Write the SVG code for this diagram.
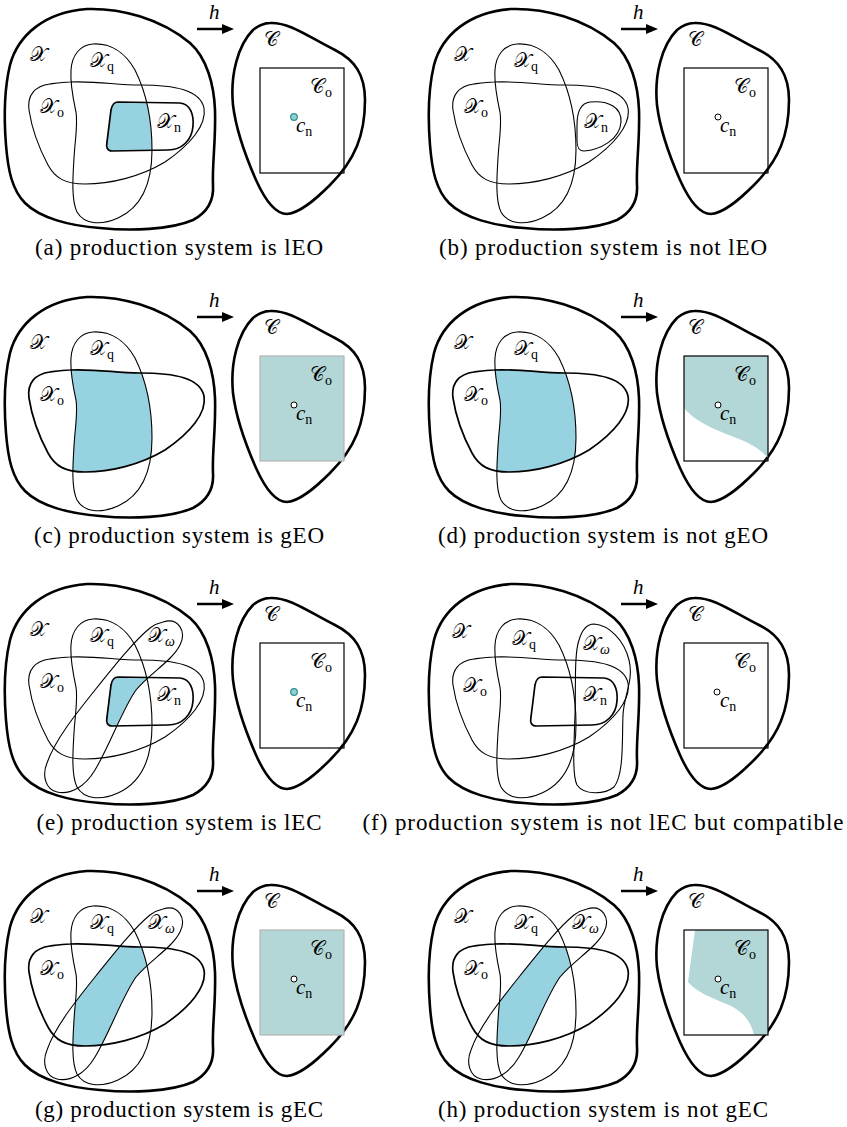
<svg xmlns="http://www.w3.org/2000/svg" xmlns:xlink="http://www.w3.org/1999/xlink" width="847" height="1127" viewBox="0 0 847 1127">
<defs>
<style>
.thick{fill:none;stroke:#000;stroke-width:2.6;stroke-linejoin:round}
.thin{fill:none;stroke:#000;stroke-width:1.1}
.med{fill:none;stroke:#000;stroke-width:1.7}
.rect{fill:none;stroke:#000;stroke-width:1.2}
.rectf{fill:#b3d6d6;stroke:#b4b4b4;stroke-width:1.2}
.cfill{fill:#b3d6d6}
.shade{fill:#96d2df}
.dot{fill:#fff;stroke:#000;stroke-width:1}
.dotc{fill:#8fd1cf;stroke:#2f8f8c;stroke-width:1.2}
.m{font-family:"DejaVu Serif","DejaVu Sans","Noto Sans","Liberation Serif",serif;font-size:20px}
.sub{font-family:"Liberation Serif",serif;font-size:14px;font-style:normal}
.subi{font-family:"Liberation Serif",serif;font-size:14px;font-style:italic}
.it{font-family:"Liberation Serif",serif;font-style:italic;font-size:21px}
.cap{font-family:"Liberation Serif",serif;font-size:23px;text-anchor:middle}
.arr{stroke:#000;stroke-width:2.5;marker-end:url(#ah)}
</style>
<marker id="ah" markerUnits="userSpaceOnUse" markerWidth="14" markerHeight="10" refX="0" refY="5" orient="auto" overflow="visible"><path d="M0,0 L12,5 L0,10 Z" fill="#000"/></marker>
<path id="pX" d="M87,9 C120,8 160,18 190,43 C207,58 214,85 215,110 C216,140 212,165 213,185 C214,200 208,212 193,220 C170,230 130,231 100,228 C70,226 40,218 25,203 C12,190 8,170 6,145 C4,120 4,90 10,65 C18,35 45,12 87,9 Z"/>
<path id="pC" d="M270,23 C290,22 310,38 335,50 C355,60 365,75 365,100 C365,135 355,160 330,185 C315,200 300,213 287,214 C275,214 265,200 256,180 C245,155 236,130 233,105 C230,75 238,45 253,30 C258,26 264,23 270,23 Z"/>
<path id="pXq" d="M93,44 C110,43 125,52 135,70 C146,92 152,120 152,150 C152,185 140,208 118,218 C100,226 84,224 77,212 C71,200 73,175 74,158 C75,140 78,125 76,112 C73,98 70,85 71,70 C72,55 80,45 93,44 Z"/>
<path id="pXo" d="M70,82 C100,81 115,85 140,85 C175,85 200,90 204,108 C207,125 190,145 165,162 C140,177 110,184 85,184 C65,184 55,178 48,165 C40,150 32,130 29,110 C27,95 35,86 50,84 C57,83 63,82 70,82 Z"/>
<path id="pXn" d="M118,102 L180,103 C190,104 194,114 193,126 C192,140 182,150 168,150 L112,151 C107,151 106,147 107,142 L111,110 C112,105 114,102 118,102 Z"/>
<path id="pXnb" d="M166,102 C185,100 198,108 197,122 C196,140 175,150 160,151 C155,151 153,148 153,140 L153,125 C153,110 158,103 166,102 Z"/>
<path id="pXw" d="M163,47 C178,42 187,56 180,70 C172,86 150,98 136,115 C122,135 110,170 95,195 C85,212 70,220 57,217 C45,214 42,200 47,188 C55,165 75,140 95,115 C115,90 135,65 150,53 C154,50 158,48 163,47 Z"/>
<path id="pXwf" d="M170,49 C185,50 200,65 205,85 C210,105 200,120 199,140 C198,165 200,200 190,212 C180,220 160,220 153,210 C148,200 150,170 151,140 C152,110 150,80 155,65 C158,55 163,49 170,49 Z"/>
<clipPath id="cq"><use href="#pXq"/></clipPath>
<clipPath id="cw"><use href="#pXw"/></clipPath>
</defs>
<rect width="847" height="1127" fill="#fff"/>

<!-- (a) -->
<g id="panel-a" transform="translate(0,0)">
<g clip-path="url(#cq)"><use href="#pXn" class="shade"/></g>
<use href="#pX" class="thick"/>
<use href="#pXq" class="thin"/>
<use href="#pXo" class="thin"/>
<use href="#pXn" class="med"/>
<use href="#pC" class="thick"/>
<rect x="260" y="68" width="84" height="105" class="rect"/>
<circle cx="294" cy="117" r="3.3" class="dotc"/>
<g class="connectors"><line x1="197" y1="29" x2="222" y2="29" class="arr"/></g>
<text x="209" y="19" class="it">h</text>
<text x="30" y="61" class="m">𝒳</text>
<text x="90" y="67" class="m">𝒳<tspan class="sub" dy="4">q</tspan></text>
<text x="40" y="113" class="m">𝒳<tspan class="sub" dy="4">o</tspan></text>
<text x="157" y="128" class="m">𝒳<tspan class="sub" dy="4">n</tspan></text>
<text x="264" y="46" class="m">𝒞</text>
<text x="310" y="93" class="m">𝒞<tspan class="sub" dy="4">o</tspan></text>
<text x="296" y="132" class="it">c<tspan class="sub" dy="4">n</tspan></text>
<text x="179" y="255" class="cap" textLength="288" lengthAdjust="spacing">(a) production system is lEO</text>
</g>

<!-- (b) -->
<g id="panel-b" transform="translate(424,0)">
<use href="#pX" class="thick"/>
<use href="#pXq" class="thin"/>
<use href="#pXo" class="thin"/>
<use href="#pXnb" class="thin"/>
<use href="#pC" class="thick"/>
<rect x="260" y="68" width="84" height="105" class="rect"/>
<circle cx="294" cy="117" r="3" class="dot"/>
<g class="connectors"><line x1="197" y1="29" x2="222" y2="29" class="arr"/></g>
<text x="209" y="19" class="it">h</text>
<text x="30" y="61" class="m">𝒳</text>
<text x="90" y="67" class="m">𝒳<tspan class="sub" dy="4">q</tspan></text>
<text x="40" y="113" class="m">𝒳<tspan class="sub" dy="4">o</tspan></text>
<text x="160" y="128" class="m">𝒳<tspan class="sub" dy="4">n</tspan></text>
<text x="264" y="46" class="m">𝒞</text>
<text x="310" y="93" class="m">𝒞<tspan class="sub" dy="4">o</tspan></text>
<text x="296" y="132" class="it">c<tspan class="sub" dy="4">n</tspan></text>
<text x="179" y="255" class="cap" textLength="328" lengthAdjust="spacing">(b) production system is not lEO</text>
</g>

<!-- (c) -->
<g id="panel-c" transform="translate(0,288)">
<g clip-path="url(#cq)"><use href="#pXo" class="shade"/></g>
<use href="#pX" class="thick"/>
<use href="#pXq" class="thin"/>
<use href="#pXo" class="med"/>
<use href="#pC" class="thick"/>
<rect x="260" y="68" width="84" height="105" class="rectf"/>
<circle cx="294" cy="117" r="3" class="dot"/>
<g class="connectors"><line x1="197" y1="29" x2="222" y2="29" class="arr"/></g>
<text x="209" y="19" class="it">h</text>
<text x="30" y="61" class="m">𝒳</text>
<text x="90" y="67" class="m">𝒳<tspan class="sub" dy="4">q</tspan></text>
<text x="40" y="113" class="m">𝒳<tspan class="sub" dy="4">o</tspan></text>
<text x="264" y="46" class="m">𝒞</text>
<text x="310" y="93" class="m">𝒞<tspan class="sub" dy="4">o</tspan></text>
<text x="296" y="132" class="it">c<tspan class="sub" dy="4">n</tspan></text>
<text x="179" y="255" class="cap" textLength="290" lengthAdjust="spacing">(c) production system is gEO</text>
</g>

<!-- (d) -->
<g id="panel-d" transform="translate(424,288)">
<g clip-path="url(#cq)"><use href="#pXo" class="shade"/></g>
<use href="#pX" class="thick"/>
<use href="#pXq" class="thin"/>
<use href="#pXo" class="med"/>
<use href="#pC" class="thick"/>
<path d="M260,68 H344 V170 C338,163 330,157 315,151 C295,143 272,135 260,120 Z" class="cfill"/>
<rect x="260" y="68" width="84" height="105" class="rect"/>
<circle cx="294" cy="117" r="3" class="dot"/>
<g class="connectors"><line x1="197" y1="29" x2="222" y2="29" class="arr"/></g>
<text x="209" y="19" class="it">h</text>
<text x="30" y="61" class="m">𝒳</text>
<text x="90" y="67" class="m">𝒳<tspan class="sub" dy="4">q</tspan></text>
<text x="40" y="113" class="m">𝒳<tspan class="sub" dy="4">o</tspan></text>
<text x="264" y="46" class="m">𝒞</text>
<text x="310" y="93" class="m">𝒞<tspan class="sub" dy="4">o</tspan></text>
<text x="296" y="132" class="it">c<tspan class="sub" dy="4">n</tspan></text>
<text x="179" y="255" class="cap" textLength="330" lengthAdjust="spacing">(d) production system is not gEO</text>
</g>

<!-- (e) -->
<g id="panel-e" transform="translate(0,575)">
<g clip-path="url(#cq)"><g clip-path="url(#cw)"><use href="#pXn" class="shade"/></g></g>
<use href="#pX" class="thick"/>
<use href="#pXq" class="thin"/>
<use href="#pXo" class="thin"/>
<use href="#pXw" class="thin"/>
<use href="#pXn" class="med"/>
<use href="#pC" class="thick"/>
<rect x="260" y="68" width="84" height="105" class="rect"/>
<circle cx="294" cy="117" r="3.3" class="dotc"/>
<g class="connectors"><line x1="197" y1="29" x2="222" y2="29" class="arr"/></g>
<text x="209" y="19" class="it">h</text>
<text x="30" y="61" class="m">𝒳</text>
<text x="90" y="67" class="m">𝒳<tspan class="sub" dy="4">q</tspan></text>
<text x="148" y="67" class="m">𝒳<tspan class="subi" dy="4">ω</tspan></text>
<text x="40" y="113" class="m">𝒳<tspan class="sub" dy="4">o</tspan></text>
<text x="157" y="126" class="m">𝒳<tspan class="sub" dy="4">n</tspan></text>
<text x="264" y="46" class="m">𝒞</text>
<text x="310" y="93" class="m">𝒞<tspan class="sub" dy="4">o</tspan></text>
<text x="296" y="132" class="it">c<tspan class="sub" dy="4">n</tspan></text>
<text x="179" y="255" class="cap" textLength="285" lengthAdjust="spacing">(e) production system is lEC</text>
</g>

<!-- (f) -->
<g id="panel-f" transform="translate(424,575)">
<use href="#pX" class="thick"/>
<use href="#pXq" class="thin"/>
<use href="#pXo" class="thin"/>
<use href="#pXwf" class="thin"/>
<use href="#pXn" class="med"/>
<use href="#pC" class="thick"/>
<rect x="260" y="68" width="84" height="105" class="rect"/>
<circle cx="293" cy="117" r="3" class="dot"/>
<g class="connectors"><line x1="197" y1="29" x2="222" y2="29" class="arr"/></g>
<text x="209" y="19" class="it">h</text>
<text x="28" y="63" class="m">𝒳</text>
<text x="88" y="70" class="m">𝒳<tspan class="sub" dy="4">q</tspan></text>
<text x="159" y="75" class="m">𝒳<tspan class="subi" dy="4">ω</tspan></text>
<text x="39" y="117" class="m">𝒳<tspan class="sub" dy="4">o</tspan></text>
<text x="159" y="126" class="m">𝒳<tspan class="sub" dy="4">n</tspan></text>
<text x="264" y="46" class="m">𝒞</text>
<text x="310" y="93" class="m">𝒞<tspan class="sub" dy="4">o</tspan></text>
<text x="296" y="132" class="it">c<tspan class="sub" dy="4">n</tspan></text>
<text x="179" y="255" class="cap" textLength="481" lengthAdjust="spacing">(f) production system is not lEC but compatible</text>
</g>

<!-- (g) -->
<g id="panel-g" transform="translate(0,862)">
<g clip-path="url(#cq)"><g clip-path="url(#cw)"><use href="#pXo" class="shade"/></g></g>
<use href="#pX" class="thick"/>
<use href="#pXq" class="thin"/>
<use href="#pXw" class="thin"/>
<use href="#pXo" class="med"/>
<use href="#pC" class="thick"/>
<rect x="260" y="68" width="84" height="105" class="rectf"/>
<circle cx="294" cy="117" r="3" class="dot"/>
<g class="connectors"><line x1="197" y1="29" x2="222" y2="29" class="arr"/></g>
<text x="209" y="19" class="it">h</text>
<text x="30" y="61" class="m">𝒳</text>
<text x="90" y="67" class="m">𝒳<tspan class="sub" dy="4">q</tspan></text>
<text x="148" y="67" class="m">𝒳<tspan class="subi" dy="4">ω</tspan></text>
<text x="40" y="113" class="m">𝒳<tspan class="sub" dy="4">o</tspan></text>
<text x="264" y="46" class="m">𝒞</text>
<text x="310" y="93" class="m">𝒞<tspan class="sub" dy="4">o</tspan></text>
<text x="296" y="132" class="it">c<tspan class="sub" dy="4">n</tspan></text>
<text x="179" y="255" class="cap" textLength="288" lengthAdjust="spacing">(g) production system is gEC</text>
</g>

<!-- (h) -->
<g id="panel-h" transform="translate(424,862)">
<g clip-path="url(#cq)"><g clip-path="url(#cw)"><use href="#pXo" class="shade"/></g></g>
<use href="#pX" class="thick"/>
<use href="#pXq" class="thin"/>
<use href="#pXw" class="thin"/>
<use href="#pXo" class="med"/>
<use href="#pC" class="thick"/>
<path d="M271,68 H344 V173 H330 C327,160 320,150 305,143 C288,136 272,130 264,120 Z" class="cfill"/>
<rect x="260" y="68" width="84" height="105" class="rect"/>
<circle cx="294" cy="117" r="3" class="dot"/>
<g class="connectors"><line x1="197" y1="29" x2="222" y2="29" class="arr"/></g>
<text x="209" y="19" class="it">h</text>
<text x="30" y="61" class="m">𝒳</text>
<text x="90" y="67" class="m">𝒳<tspan class="sub" dy="4">q</tspan></text>
<text x="148" y="67" class="m">𝒳<tspan class="subi" dy="4">ω</tspan></text>
<text x="40" y="113" class="m">𝒳<tspan class="sub" dy="4">o</tspan></text>
<text x="264" y="46" class="m">𝒞</text>
<text x="310" y="93" class="m">𝒞<tspan class="sub" dy="4">o</tspan></text>
<text x="296" y="132" class="it">c<tspan class="sub" dy="4">n</tspan></text>
<text x="179" y="255" class="cap" textLength="330" lengthAdjust="spacing">(h) production system is not gEC</text>
</g>
</svg>
